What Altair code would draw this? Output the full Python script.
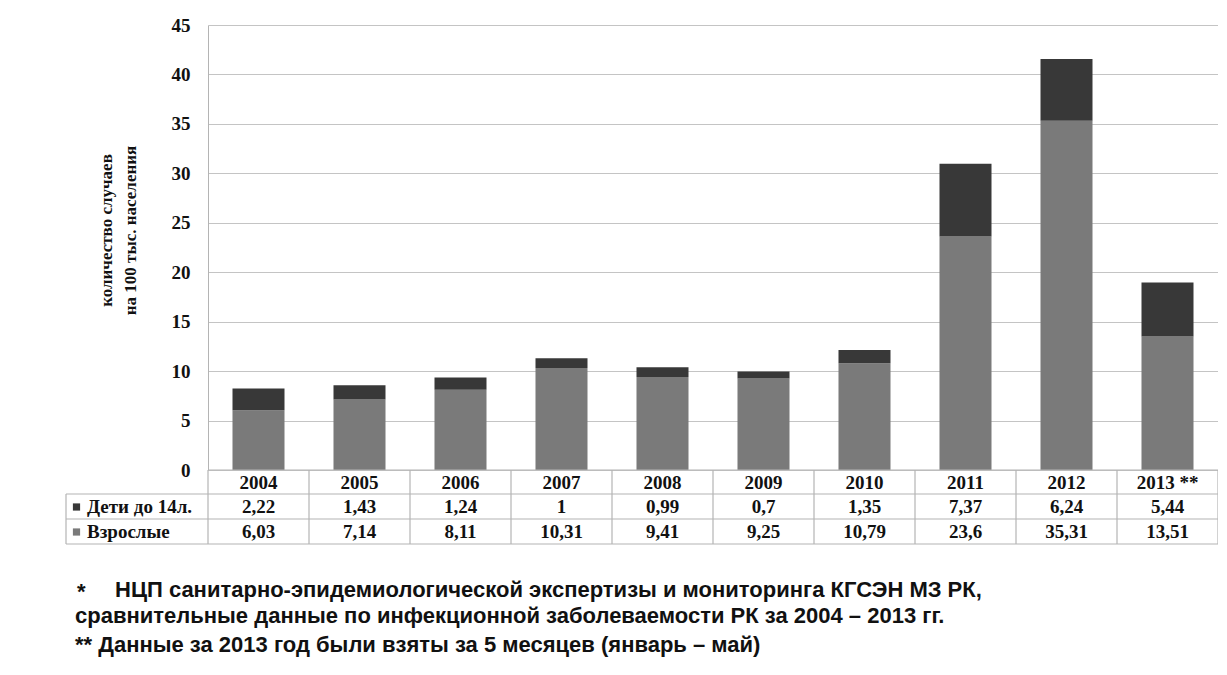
import altair as alt
import pandas as pd

# ---- data ----
years = ["2004", "2005", "2006", "2007", "2008", "2009", "2010", "2011", "2012", "2013 **"]
children = [2.22, 1.43, 1.24, 1, 0.99, 0.7, 1.35, 7.37, 6.24, 5.44]
adults = [6.03, 7.14, 8.11, 10.31, 9.41, 9.25, 10.79, 23.6, 35.31, 13.51]
series = ["Взрослые", "Дети до 14л."]
colors = ["#7a7a7a", "#383838"]
y_ticks = [0, 5, 10, 15, 20, 25, 30, 35, 40, 45]
y_title = ["количество случаев", "на 100 тыс. населения"]
note_star = "*"
notes = [
    "НЦП санитарно-эпидемиологической экспертизы и мониторинга КГСЭН МЗ РК,",
    "сравнительные данные по инфекционной заболеваемости РК за 2004 – 2013 гг.",
    "** Данные за 2013 год были взяты за 5 месяцев (январь – май)",
]

W, H = 1010, 445
SERIF = "Liberation Serif"
SANS = "Liberation Sans"
GRID = "#c4c4c4"
LINE = "#b4b4b4"


def fmt(v):
    return f"{v:g}".replace(".", ",")


rows = []
for i, yr in enumerate(years):
    rows.append({"year": yr, "series": series[0], "value": adults[i], "order": 0, "label": fmt(adults[i])})
    rows.append({"year": yr, "series": series[1], "value": children[i], "order": 1, "label": fmt(children[i])})
df = pd.DataFrame(rows)
yr_df = pd.DataFrame({"year": years})
dummy = pd.DataFrame({"a": [0]})

xscale = alt.Scale(domain=years, paddingInner=0, paddingOuter=0)
xenc = alt.X("year:N", scale=xscale, sort=years, axis=None)

bars = alt.Chart(df).mark_bar(width=alt.RelativeBandSize(0.515)).encode(
    x=xenc,
    y=alt.Y(
        "value:Q",
        stack="zero",
        scale=alt.Scale(domain=[0, 45], nice=False),
        axis=alt.Axis(
            values=y_ticks,
            ticks=False,
            labelFont=SERIF,
            labelFontWeight="bold",
            labelFontSize=19,
            labelColor="#111111",
            labelPadding=18,
            gridColor=GRID,
            gridWidth=1.2,
            domainColor=LINE,
            title=y_title,
            titleFont=SERIF,
            titleFontWeight="bold",
            titleFontSize=17,
            titleColor="#111111",
            titleAngle=270,
            titleAlign="center",
            titleBaseline="middle",
            titleLineHeight=24,
            titleX=-102,
            titleY=205,
        ),
    ),
    color=alt.Color("series:N", scale=alt.Scale(domain=series, range=colors), legend=None),
    order=alt.Order("order:Q"),
)


def hline(y, x1, x2):
    return alt.Chart(dummy).mark_rule(color=LINE, strokeWidth=1.2).encode(
        x=alt.value(x1), x2=alt.value(x2), y=alt.value(y)
    )


def vline(x, y1, y2):
    return alt.Chart(dummy).mark_rule(color=LINE, strokeWidth=1.2).encode(
        x=alt.value(x), y=alt.value(y1), y2=alt.value(y2)
    )


R1, R2, R3 = H + 24, H + 49, H + 74
LX = -142
lines = [
    hline(H, 0, W),
    hline(R1, LX, W),
    hline(R2, LX, W),
    hline(R3, LX, W),
    vline(W, H, R3),
    vline(LX, R1, R3),
]
vlines = alt.Chart(yr_df).mark_rule(color=LINE, strokeWidth=1.2).encode(
    x=alt.X("year:N", scale=xscale, sort=years, axis=None, bandPosition=0),
    y=alt.value(H),
    y2=alt.value(R3),
)

txt = dict(font=SERIF, fontWeight="bold", fontSize=19, color="#111111", baseline="middle")
year_text = alt.Chart(yr_df).mark_text(**txt).encode(
    x=alt.X("year:N", scale=xscale, sort=years, axis=None), y=alt.value(H + 12.5), text="year:N"
)
child_text = alt.Chart(df).transform_filter(alt.datum.order == 1).mark_text(**txt).encode(
    x=alt.X("year:N", scale=xscale, sort=years, axis=None), y=alt.value(H + 37), text="label:N"
)
adult_text = alt.Chart(df).transform_filter(alt.datum.order == 0).mark_text(**txt).encode(
    x=alt.X("year:N", scale=xscale, sort=years, axis=None), y=alt.value(H + 62), text="label:N"
)

leg = []
for s, c, yy in [(series[1], colors[1], H + 37), (series[0], colors[0], H + 62)]:
    leg.append(
        alt.Chart(dummy).mark_square(size=52, color=c, opacity=1).encode(
            x=alt.value(-131.5), y=alt.value(yy)
        )
    )
    leg.append(
        alt.Chart(dummy).mark_text(align="left", text=s, **txt).encode(
            x=alt.value(-121), y=alt.value(yy)
        )
    )

ntxt = dict(font=SANS, fontWeight="bold", fontSize=22, color="#111111", baseline="middle", align="left")
footer = [
    alt.Chart(dummy).mark_text(text=note_star, **ntxt).encode(x=alt.value(-131), y=alt.value(H + 122)),
    alt.Chart(dummy).mark_text(text=notes[0], **ntxt).encode(x=alt.value(-93), y=alt.value(H + 120)),
    alt.Chart(dummy).mark_text(text=notes[1], **ntxt).encode(x=alt.value(-133), y=alt.value(H + 146)),
    alt.Chart(dummy).mark_text(text=notes[2], **ntxt).encode(x=alt.value(-133), y=alt.value(H + 175)),
]

chart = alt.layer(
    bars, vlines, *lines, year_text, child_text, adult_text, *leg, *footer
).properties(
    width=W,
    height=H,
    autosize=alt.AutoSizeParams(type="none"),
    padding={"left": 200, "top": 17, "right": 0, "bottom": 195},
).configure_view(stroke=None)

chart.save("out.html", embed_options={"renderer": "svg", "actions": False})
